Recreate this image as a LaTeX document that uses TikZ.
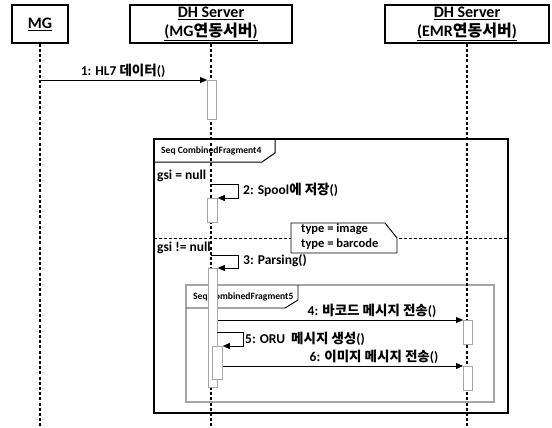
\documentclass[tikz,border=0pt]{standalone}
\usepackage{fontspec}
\setmainfont{Carlito}
\newfontfamily\kr{Noto Sans CJK KR}
\usetikzlibrary{arrows.meta}
\newcommand{\kt}[1]{{\kr\bfseries #1}}
\newcommand{\lblfont}{\fontsize{13.5}{16}\selectfont\bfseries}
\newcommand{\notefont}{\fontsize{12.5}{15.5}\selectfont\bfseries}
\newcommand{\hdrfont}{\fontsize{16}{19}\selectfont\bfseries}
\newcommand{\tabfont}{\fontsize{9.6}{11}\selectfont\bfseries}
\tikzset{
  hdr/.style={draw, line width=1.6pt, align=center, font=\hdrfont, inner sep=0pt},
  life/.style={line width=2.2pt, dash pattern=on 3pt off 2.2pt},
  act/.style={draw=gray!70, fill=white, line width=0.8pt, minimum width=9pt, inner sep=0pt, anchor=north west},
  msg/.style={line width=0.9pt, -{Triangle[length=7pt,width=6pt]}},
  lbl/.style={font=\lblfont, inner sep=1pt},
  frag/.style={line width=1.4pt},
  ifrag/.style={line width=1.2pt, draw=gray!70},
  tabtxt/.style={font=\tabfont, inner sep=0pt, anchor=west},
}
\begin{document}
\begin{tikzpicture}[x=1pt,y=-1pt]
\useasboundingbox (0,0) rectangle (552,428);
% header boxes
\node[hdr, minimum width=56pt, minimum height=38pt] (mg) at (40,24) {\underline{MG}};
\node[hdr, minimum width=162pt, minimum height=38pt] (s1) at (211,24) {\underline{DH Server}\\\underline{(MG\kt{연동서버})}};
\node[hdr, minimum width=164pt, minimum height=38pt] (s2) at (467,24) {\underline{DH Server}\\\underline{(EMR\kt{연동서버})}};
% lifeline ends
\coordinate (mgend) at (40,428);
\coordinate (s1end) at (211,428);
\coordinate (s2end) at (467,428);
% outer combined fragment
\draw[frag] (154,139) rectangle (508,413);
\draw[line width=1pt] (154,162) -- (262,162) -- (275,153) -- (275,139);
\node[tabtxt] (t4) at (161,151) {Seq CombinedFragment4};
\draw[line width=0.8pt, densely dashed] (154,238) -- (508,238);
\node[lbl, anchor=west] (g1) at (156,176) {gsi = null};
\node[lbl, anchor=west] (g2) at (156,248) {gsi != null};
% inner combined fragment
\draw[ifrag] (186,285) rectangle (494,402);
\draw[line width=0.9pt] (186,308) -- (285,308) -- (298,300) -- (298,285);
\node[tabtxt] (t5) at (193,297) {Seq CombinedFragment5};
% lifelines
\draw[life] (mg.south) -- (mgend);
\draw[life] (s1.south) -- (s1end);
\draw[life] (s2.south) -- (s2end);
% note
\draw[line width=0.9pt, fill=white] (291,223) -- (385,223) -- (397,238) -- (397,253) -- (291,253) -- cycle;
\node[font=\notefont, anchor=north west, align=left, inner sep=0pt] (note) at (301,223.5) {type = image\\type = barcode};
% activations
\node[act, minimum height=39pt] (a1) at (207,80) {};
\node[act, minimum height=24pt, minimum width=10pt] (a2) at (207,198) {};
\node[act, minimum height=119pt] (a3) at (208,268) {};
\node[act, minimum height=33pt, minimum width=10pt] (a5) at (212,346) {};
\node[act, minimum height=24pt] (a4) at (463,320) {};
\node[act, minimum height=24pt] (a6) at (463,366) {};
% messages
\coordinate (m1s) at (40,80);
\draw[msg] (m1s) -- (a1.north west);
\node[lbl] (l1) at (123,71) {1: HL7 \kt{데이터}()};
\coordinate (m2s) at (211,184);
\draw[msg] (m2s) -- (238,184) -- (238,198) -- (a2.north east);
\node[lbl, anchor=west] (l2) at (242,190) {2: Spool\kt{에 저장}()};
\coordinate (m3s) at (211,255);
\draw[msg] (m3s) -- (238,255) -- (238,268) -- (a3.north east);
\node[lbl, anchor=west] (l3) at (242,261) {3: Parsing()};
\coordinate (m4s) at (a3.east |- a4.north);
\draw[msg] (m4s) -- (a4.north west);
\node[lbl] (l4) at (372,311) {4: \kt{바코드 메시지 전송}()};
\coordinate (m5s) at (217,332);
\draw[msg] (m5s) -- (243,332) -- (243,346) -- (a5.north east);
\node[lbl, anchor=west] (l5) at (244,339) {5: ORU\ \ \kt{메시지 생성}()};
\coordinate (m6s) at (a5.east |- a6.north);
\draw[msg] (m6s) -- (a6.north west);
\node[lbl] (l6) at (374,357) {6: \kt{이미지 메시지 전송}()};
\end{tikzpicture}
\end{document}
